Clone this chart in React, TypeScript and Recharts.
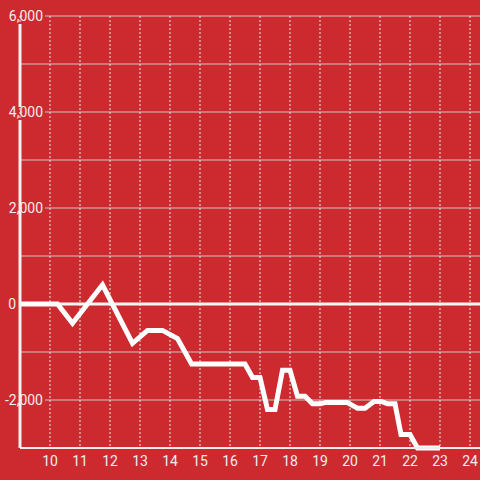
import React from 'react';
import { LineChart, Line, XAxis, YAxis, CartesianGrid, ReferenceLine } from 'recharts';

const hours = [9, 10.25, 10.75, 11.75, 12.75, 13.25, 13.75, 14.25, 14.72, 16.5, 16.75, 17, 17.25, 17.5, 17.75, 18, 18.25, 18.5, 18.75, 19, 19.2, 19.9, 20.25, 20.5, 20.8, 21.05, 21.25, 21.5, 21.7, 22, 22.25, 23];
const values = [0, 0, -400, 400, -820, -550, -550, -720, -1250, -1250, -1530, -1530, -2200, -2200, -1380, -1380, -1920, -1920, -2080, -2080, -2050, -2050, -2170, -2170, -2030, -2030, -2080, -2080, -2720, -2720, -3000, -3000];
const xTicks = [10, 11, 12, 13, 14, 15, 16, 17, 18, 19, 20, 21, 22, 23, 24];
const yTicks = [-3000, -2000, -1000, 0, 1000, 2000, 3000, 4000, 5000, 6000];
const yLabelTicks = [-2000, 0, 2000, 4000, 6000];

const BG = '#cc2a2f';
const FONT = 'Roboto, "Liberation Sans", sans-serif';

const data = hours.map((h, i) => ({ h, v: values[i] }));

const YTick = (props: any) => {
  const { y, payload } = props;
  const v = payload.value;
  if (!yLabelTicks.includes(v)) return <g />;
  const label = v.toLocaleString('en-US');
  const isZero = v === 0;
  return (
    <g>
      {!isZero && <rect x={22.5} y={y - 2} width={22.5} height={4} fill={BG} />}
      <text x={isZero ? 16 : 43} y={y} dy="0.36em" textAnchor="end" fill="#eee" fontSize={14} fontFamily={FONT}>
        {label}
      </text>
    </g>
  );
};

export default function App() {
  return (
    <div style={{ position: 'fixed', left: 0, top: 0, width: 480, height: 480, overflow: 'hidden', background: BG }}>
      <LineChart width={500} height={480} data={data} margin={{ top: 16, right: 0, bottom: 0, left: 0 }}>
        <CartesianGrid horizontal={true} vertical={false} stroke="#c9c9c9" strokeWidth={1} />
        <CartesianGrid horizontal={false} vertical={true} stroke="#e6e6e6" strokeDasharray="2 2" strokeWidth={1} />
        <XAxis
          dataKey="h"
          type="number"
          domain={[9, 25]}
          ticks={xTicks}
          allowDecimals={false}
          height={32}
          axisLine={{ stroke: '#eeeeee', strokeWidth: 2 }}
          tickLine={false}
          tick={{ fill: '#eee', fontSize: 14, fontFamily: FONT }}
          interval={0}
        />
        <YAxis
          type="number"
          domain={[-3000, 6000]}
          ticks={yTicks}
          width={20}
          axisLine={{ stroke: '#f2f2f2', strokeWidth: 3, strokeDasharray: '0 8 83 13 400' }}
          tickLine={false}
          tick={<YTick />}
          interval={0}
        />
        <ReferenceLine y={0} stroke="#f5f5f5" strokeWidth={3} ifOverflow="visible" />
        <Line
          type="linear"
          dataKey="v"
          stroke="#ffffff"
          strokeWidth={5}
          dot={false}
          activeDot={false}
          isAnimationActive={false}
        />
      </LineChart>
    </div>
  );
}
